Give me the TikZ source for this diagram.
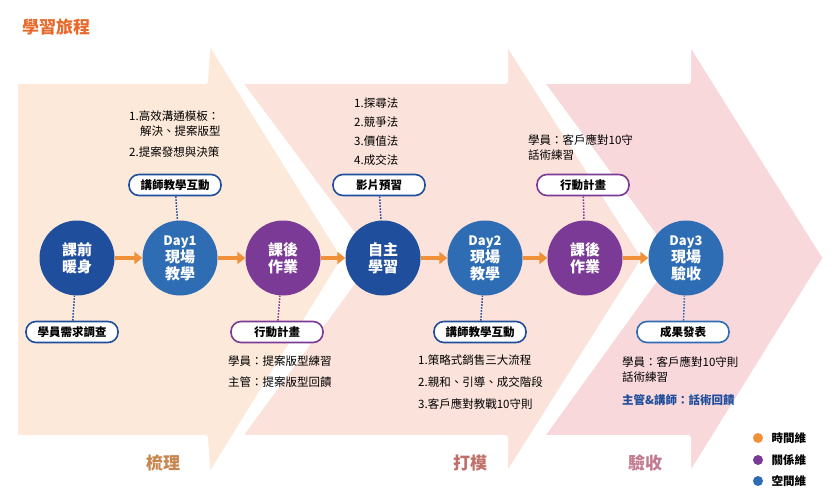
\documentclass[tikz,border=0pt]{standalone}
\usepackage{fontspec}
\setmainfont{Noto Sans CJK TC}
\usetikzlibrary{arrows.meta}
\begin{document}
\begin{tikzpicture}[x=1pt,y=-1pt,
 circ/.style={circle,minimum size=75pt,inner sep=0pt,text=white,font=\fontsize{15}{17}\selectfont\bfseries,align=center},
 pill/.style={rounded corners=10pt,draw=#1,line width=1.6pt,fill=white,minimum width=92pt,minimum height=21pt,font=\fontsize{11.5}{13}\selectfont\bfseries},
 txt/.style={font=\fontsize{11.5}{17}\selectfont,align=left,anchor=north west,inner sep=0pt},
 dot/.style={draw=#1,line width=1.5pt,dash pattern=on 1.5pt off 1.5pt},
 flow/.style={draw=orarrow,line width=4pt,-{Triangle[length=8pt,width=12pt]}},
 chev/.style={fill=#1,draw=white,line width=6pt,line join=round}]
\definecolor{c1}{HTML}{FDE9D9}\definecolor{c2}{HTML}{FBE2DA}\definecolor{c3}{HTML}{F9D8DC}
\definecolor{dkb}{HTML}{1F4E9C}\definecolor{mdb}{HTML}{2E6DB4}\definecolor{pur}{HTML}{7B3A96}
\definecolor{orarrow}{HTML}{F0913A}\definecolor{ttl}{HTML}{E8692A}
\useasboundingbox (0,0) rectangle (832,497);
\fill[white] (0,0) rectangle (832,497);
% chevrons
\path[chev=c3] (540,81) -- (688,81) -- (688,38) -- (826,258) -- (688,480) -- (688,438) -- (540,438) -- (670,258) -- cycle;
\path[chev=c2] (238,81) -- (505,81) -- (505,38) -- (645,258) -- (505,480) -- (505,438) -- (238,438) -- (370,258) -- cycle;
\path[chev=c1] (15,81) -- (205,81) -- (208,38) -- (345,258) -- (208,480) -- (205,438) -- (15,438) -- cycle;
\node[font=\fontsize{17}{19}\selectfont\bfseries,text=ttl] (title) at (56,27) {學習旅程};
% circles
\node[circ,fill=dkb] (a) at (77,258) {課前\\暖身};
\node[circ,fill=mdb] (b) at (180,258) {\fontsize{13}{15}\selectfont Day1\\現場\\教學};
\node[circ,fill=pur] (c) at (283,258) {課後\\作業};
\node[circ,fill=dkb] (d) at (383,258) {自主\\學習};
\node[circ,fill=mdb] (e) at (485,258) {\fontsize{13}{15}\selectfont Day2\\現場\\教學};
\node[circ,fill=pur] (f) at (585,258) {課後\\作業};
\node[circ,fill=mdb] (g) at (686,258) {\fontsize{13}{15}\selectfont Day3\\現場\\驗收};
\foreach \p/\q in {a/b,b/c,c/d,d/e,e/f,f/g} \draw[flow] (\p) -- (\q);
% pills
\node[pill=dkb] (pb) at (175,185) {講師教學互動};
\node[pill=dkb] (pd) at (379,185) {影片預習};
\node[pill=pur] (pf) at (583,185) {行動計畫};
\node[pill=dkb] (pa) at (72,332) {學員需求調查};
\node[pill=pur] (pc) at (277,332) {行動計畫};
\node[pill=dkb] (pe) at (480,332) {講師教學互動};
\node[pill=mdb] (pg) at (683,332) {成果發表};
\draw[dot=dkb] (pb) -- (b); \draw[dot=dkb] (pd) -- (d); \draw[dot=pur] (pf) -- (f);
\draw[dot=dkb] (pa) -- (a); \draw[dot=pur] (pc) -- (c); \draw[dot=dkb] (pe) -- (e); \draw[dot=mdb] (pg) -- (g);
% texts
\node[txt,font=\fontsize{11.5}{15}\selectfont] (t1) at (129,111) {1.高效溝通模板：\\\hspace*{11pt}解決、提案版型};
\node[txt] (t2) at (129,147) {2.提案發想與決策};
\node[txt,font=\fontsize{11.5}{19}\selectfont] (t3) at (354,98) {1.探尋法\\2.競爭法\\3.價值法\\4.成交法};
\node[txt,font=\fontsize{11.5}{15}\selectfont] (t4) at (528,134) {學員：客戶應對10守\\話術練習};
\node[txt,font=\fontsize{11.5}{21}\selectfont] (t5) at (228,356) {學員：提案版型練習\\主管：提案版型回饋};
\node[txt,font=\fontsize{11.5}{22}\selectfont] (t6) at (418,355) {1.策略式銷售三大流程\\2.親和、引導、成交階段\\3.客戶應對教戰10守則};
\node[txt,font=\fontsize{11.5}{15}\selectfont] (t7) at (622,356) {學員：客戶應對10守則\\話術練習};
\node[txt,text=dkb,font=\fontsize{11.5}{13}\selectfont\bfseries] (t8) at (622,394) {主管\&講師：話術回饋};
% section labels
\node[font=\fontsize{17}{19}\selectfont\bfseries,text={rgb,255:red,200;green,134;blue,78}] (s1) at (163,463) {梳理};
\node[font=\fontsize{17}{19}\selectfont\bfseries,text={rgb,255:red,192;green,112;blue,106}] (s2) at (470,463) {打模};
\node[font=\fontsize{17}{19}\selectfont\bfseries,text={rgb,255:red,194;green,122;blue,144}] (s3) at (645,463) {驗收};
% legend
\fill[orarrow] (758,438) circle (5pt); \node[anchor=west,font=\fontsize{11.5}{13}\selectfont\bfseries] (l1) at (768,438) {時間維};
\fill[pur] (758,460) circle (5pt); \node[anchor=west,font=\fontsize{11.5}{13}\selectfont\bfseries] (l2) at (768,460) {關係維};
\fill[mdb] (758,481) circle (5pt); \node[anchor=west,font=\fontsize{11.5}{13}\selectfont\bfseries] (l3) at (768,481) {空間維};
\end{tikzpicture}
\end{document}
